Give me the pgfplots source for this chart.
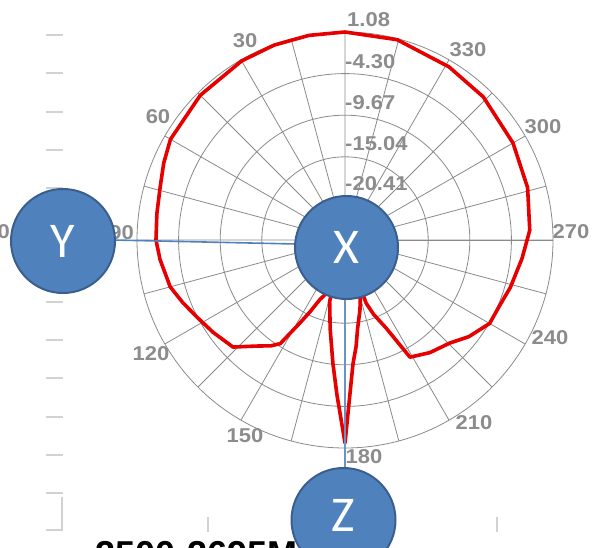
\documentclass[border=0pt]{standalone}
\usepackage{fontspec}
\setmainfont{Liberation Sans}
\newfontfamily\carlito{Carlito}
\usepackage{pgfplots}
\usepgfplotslibrary{polar}
\pgfplotsset{compat=1.18}
\usepackage{pgfplotstable}
\definecolor{gridgray}{HTML}{8A8A8A}
\definecolor{labelgray}{HTML}{8C8C8C}
\definecolor{faint}{HTML}{D2D2D2}
\definecolor{ballfill}{HTML}{4F81BD}
\definecolor{balldraw}{HTML}{3A5F8F}
\definecolor{curvered}{HTML}{E60000}

% angle (deg, counter-clockwise from top) and level (dB)
\pgfplotstableread{
ang db
0 1.08
10 1.05
20 1.00
30 0.92
45 0.65
60 0.24
67 -0.35
74 -0.95
82 -1.25
90 -1.37
96 -1.76
105 -2.41
111 -3.31
117.5 -4.22
125 -4.99
133.7 -5.77
140 -7.90
145 -9.10
148 -10.00
151.5 -13.60
154 -15.45
157 -17.39
160 -18.30
163.5 -22.50
166 -17.60
170.5 -14.16
174.4 -9.77
177 -5.80
180 0.43
183.7 -9.77
186 -12.00
188 -14.16
192 -16.50
194.5 -17.90
196.5 -22.50
198.5 -17.20
201 -15.51
205 -13.25
209 -8.48
217 -7.57
225.5 -6.80
232 -5.50
240 -4.22
247 -4.09
254 -3.57
264 -2.80
273 -1.89
286 -1.25
300 -0.73
316 -0.08
329 0.30
345.4 0.95
360 1.08
}\radpattern

\newcommand\lblfont{\bfseries\fontsize{20}{23}\selectfont}
\newcommand\lbl[1]{\scalebox{1.1}[1]{#1}}
\newcommand\ballfont{\carlito\fontsize{50}{54}\selectfont}
\newcommand\capfont{\bfseries\fontsize{36}{40}\selectfont}
\tikzset{alab/.style={inner sep=0pt, text=labelgray, font=\lblfont}}

\begin{document}
\begin{tikzpicture}
\useasboundingbox (0,0) rectangle (593pt,547pt);
\clip (0,0) rectangle (593pt,547pt);

% faint remnants of a neighbouring chart
\foreach \yy in {512,474,435,397,359,245,207,169,130,92,54}{
  \draw[faint, line width=1.4pt] (46pt,\yy pt) -- (63pt,\yy pt);
}
\draw[faint, line width=1.4pt] (62pt,50pt) -- (62pt,17pt) -- (46pt,17pt);
\draw[faint, line width=1.4pt] (208pt,30pt) -- (208pt,15pt);
\draw[faint, line width=1.4pt] (497pt,30pt) -- (497pt,15pt);
\node[alab, anchor=east] at (10pt,315pt) {\lbl{270}};

\begin{polaraxis}[
  at={(345pt,307pt)}, anchor=origin,
  scale only axis, width=416pt, height=416pt,
  xmin=0, xmax=360, ymin=0, ymax=26.86,
  clip=false,
  xtick={0,30,...,330},
  xticklabels={},
  minor xtick={15,45,...,345},
  ytick={5.372,10.744,16.116,21.488},
  yticklabels={},
  grid=both,
  major grid style={draw=gridgray, line width=0.8pt},
  minor grid style={draw=gridgray, line width=0.8pt},
  axis line style={draw=gridgray, line width=0.8pt},
  tick style={draw=none},
]
\addplot[curvered, line width=3.6pt, line join=round, no markers]
  table[x expr=\thisrow{ang}+90, y expr=\thisrow{db}+25.78] {\radpattern};
\end{polaraxis}

% angular labels (degrees, counter-clockwise from top)
\node[alab] at (245pt,506pt) {\lbl{30}};
\node[alab] at (158pt,430pt) {\lbl{60}};
\node[alab, anchor=east] at (134pt,314pt) {\lbl{90}};
\node[alab] at (151pt,193pt) {\lbl{120}};
\node[alab] at (245pt,111pt) {\lbl{150}};
\node[alab] at (364pt,90pt) {\lbl{180}};
\node[alab] at (474pt,124pt) {\lbl{210}};
\node[alab] at (550pt,209pt) {\lbl{240}};
\node[alab] at (571pt,315pt) {\lbl{270}};
\node[alab] at (543pt,420pt) {\lbl{300}};
\node[alab] at (468pt,497pt) {\lbl{330}};

% radial value labels
\node[alab, anchor=west] at (347pt,527pt) {\lbl{1.08}};
\node[alab, anchor=west] at (345pt,485pt) {\lbl{-4.30}};
\node[alab, anchor=west] at (345pt,444pt) {\lbl{-9.67}};
\node[alab, anchor=west] at (345pt,403pt) {\lbl{-15.04}};
\node[alab, anchor=west] at (345pt,363pt) {\lbl{-20.41}};

% connecting lines
\draw[ballfill, line width=1.6pt] (113pt,307pt) -- (296pt,303pt);
\draw[ballfill!85!white, line width=2pt] (345pt,250pt) -- (345pt,77pt);

% axis balls
\fill[ballfill, draw=balldraw, line width=2pt] (63pt,306pt) circle (52pt);
\node[text=white, font=\ballfont] at (63pt,306pt) {Y};
\fill[ballfill, draw=balldraw, line width=2pt] (346.5pt,299.5pt) circle (51.5pt);
\node[text=white, font=\ballfont] at (346.5pt,299.5pt) {X};

% bottom caption (mostly cut off)
\node[anchor=base west, inner sep=0pt, font=\capfont] at (95pt,-19pt) {2500-2695MHz};
\fill[ballfill, draw=balldraw, line width=2pt] (343.5pt,27pt) circle (52pt);
\node[text=white, font=\ballfont] at (343.5pt,32pt) {Z};
\end{tikzpicture}
\end{document}
